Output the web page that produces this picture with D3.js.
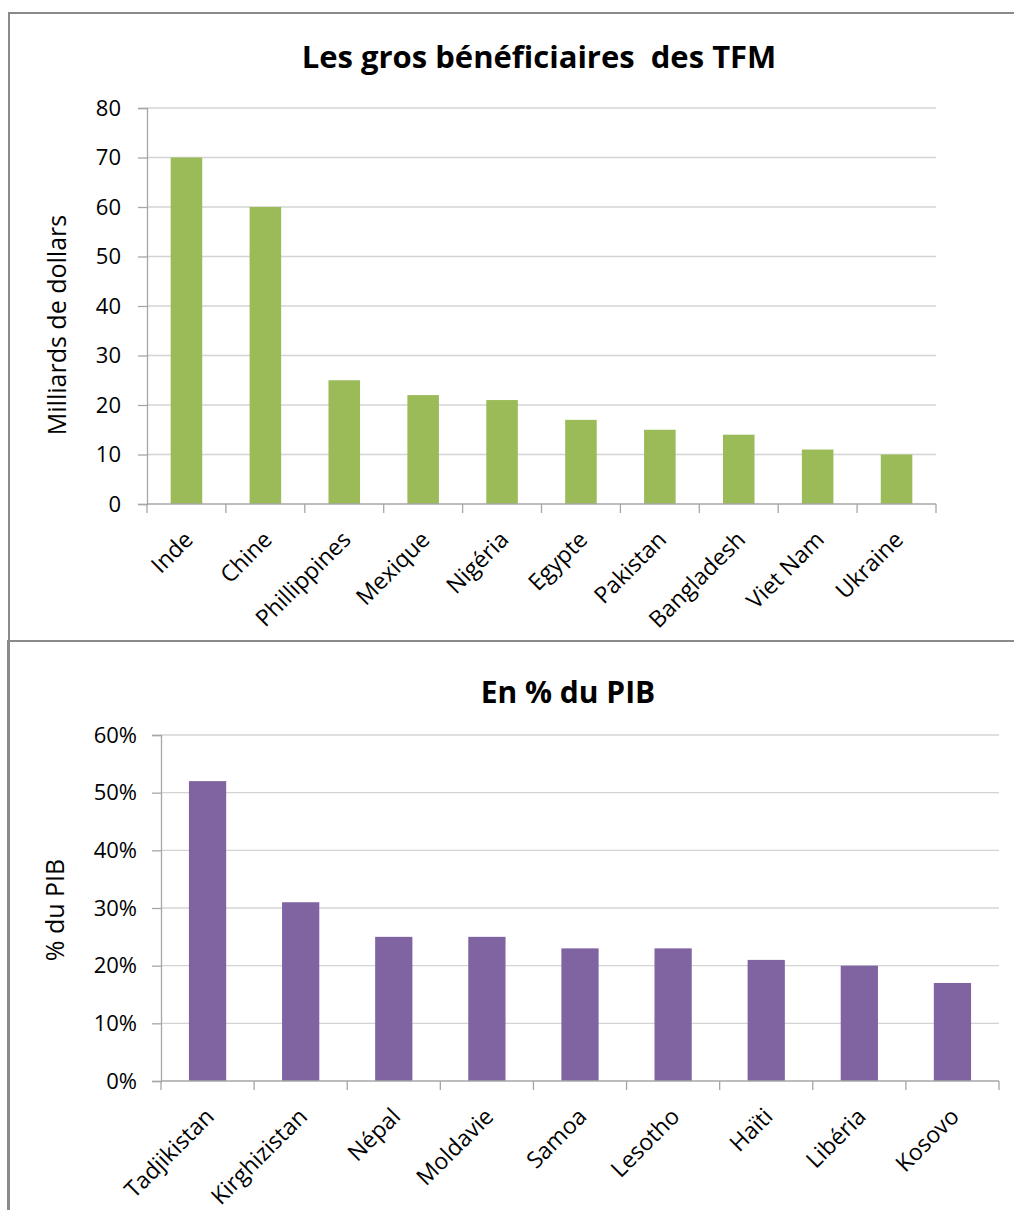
<!DOCTYPE html>
<html><head><meta charset="utf-8">
<script src="https://cdn.jsdelivr.net/npm/d3@7"></script>
<style>body{margin:0;background:#fff}svg{display:block}text{font-family:"Open Sans",sans-serif;fill:#000;white-space:pre}</style>
</head><body>
<svg id="c" width="1014" height="1210"></svg>
<script>
const topCategories = ["Inde","Chine","Phillippines","Mexique","Nigéria","Egypte","Pakistan","Bangladesh","Viet Nam","Ukraine"];
const topValues = [70,60,25,22,21,17,15,14,11,10];
const topTicks = [0,10,20,30,40,50,60,70,80];
const botCategories = ["Tadjikistan","Kirghizistan","Népal","Moldavie","Samoa","Lesotho","Haïti","Libéria","Kosovo"];
const botValues = [0.52,0.31,0.25,0.25,0.23,0.23,0.21,0.20,0.17];
const botTicks = [0,0.1,0.2,0.3,0.4,0.5,0.6];

const svg = d3.select("#c");

// panel borders
svg.append("path").attr("d","M9,1210V13H1014").attr("fill","none").attr("stroke","#8a8a8a").attr("stroke-width",2);
svg.append("path").attr("d","M8,1210V641H1014").attr("fill","none").attr("stroke","#8a8a8a").attr("stroke-width",2);

function chart(o){
  const g = svg.append("g");
  const x = d3.scaleBand().domain(o.cats).range([o.x0,o.x1]).paddingInner(o.pad).paddingOuter(o.pad/2);
  const y = d3.scaleLinear().domain([0,o.max]).range([o.y0,o.y1]);
  // grid
  g.selectAll(".grid").data(o.ticks.filter(t=>t>0)).join("line").attr("class","grid")
    .attr("x1",o.x0).attr("x2",o.x1).attr("y1",d=>y(d)).attr("y2",d=>y(d))
    .attr("stroke","#d4d4d4").attr("stroke-width",1.3);
  // bars
  g.selectAll(".bar").data(o.vals).join("rect").attr("class","bar")
    .attr("x",(d,i)=>x(o.cats[i])).attr("width",x.bandwidth())
    .attr("y",d=>y(d)).attr("height",d=>y(0)-y(d)).attr("fill",o.color);
  // y axis
  const ya = g.append("g").attr("transform",`translate(${o.x0},0)`)
    .call(d3.axisLeft(y).tickValues(o.ticks).tickFormat(o.fmt).tickSize(9).tickPadding(o.tp));
  ya.select(".domain").attr("stroke","#a6a6a6").attr("stroke-width",1.3);
  ya.selectAll(".tick line").attr("stroke","#a6a6a6").attr("stroke-width",1.3);
  ya.selectAll("text").attr("font-size",o.fs).style("font-family","'Open Sans',sans-serif").attr("fill","#000");
  // x axis
  const step = x.step();
  const xa = g.append("g").attr("transform",`translate(0,${o.y0})`);
  xa.append("line").attr("x1",o.x0).attr("x2",o.x1).attr("stroke","#a6a6a6").attr("stroke-width",1.3);
  xa.selectAll(".t").data(d3.range(o.cats.length+1)).join("line").attr("class","t")
    .attr("x1",i=>o.x0+i*step).attr("x2",i=>o.x0+i*step).attr("y1",0).attr("y2",9)
    .attr("stroke","#a6a6a6").attr("stroke-width",1.3);
  xa.selectAll(".lab").data(o.cats).join("text").attr("class","lab")
    .attr("transform",d=>`translate(${x(d)+x.bandwidth()/2+8},${o.lab})rotate(-45)`)
    .attr("text-anchor","end").attr("font-size",o.cfs).text(d=>d);
  // title
  svg.append("text").attr("x",o.tx).attr("y",o.ty).attr("text-anchor","middle")
    .attr("font-size",o.tfs).attr("font-weight","bold").text(o.title);
  svg.append("text").attr("transform",`translate(${o.lx},${o.ly})rotate(-90)`).attr("text-anchor","middle")
    .attr("font-size",o.lfs).text(o.ylab);
}

chart({cats:topCategories,vals:topValues,ticks:topTicks,max:80,x0:147,x1:936,y0:504,y1:108,pad:0.6,
  color:"#9bbb59",fmt:d=>d,fs:22,cfs:23,tp:17,lab:37,title:"Les gros bénéficiaires  des TFM",tx:539,ty:68,tfs:31,
  ylab:"Milliards de dollars",lx:66,ly:325,lfs:25});
chart({cats:botCategories,vals:botValues,ticks:botTicks,max:0.6,x0:161,x1:999,y0:1081,y1:735,pad:0.6,
  color:"#8064a2",fmt:d=>Math.round(d*100)+"%",fs:22,cfs:23,tp:15,lab:37,title:"En % du PIB",tx:568,ty:703,tfs:30,
  ylab:"% du PIB",lx:64,ly:910,lfs:25});
</script>
</body></html>
